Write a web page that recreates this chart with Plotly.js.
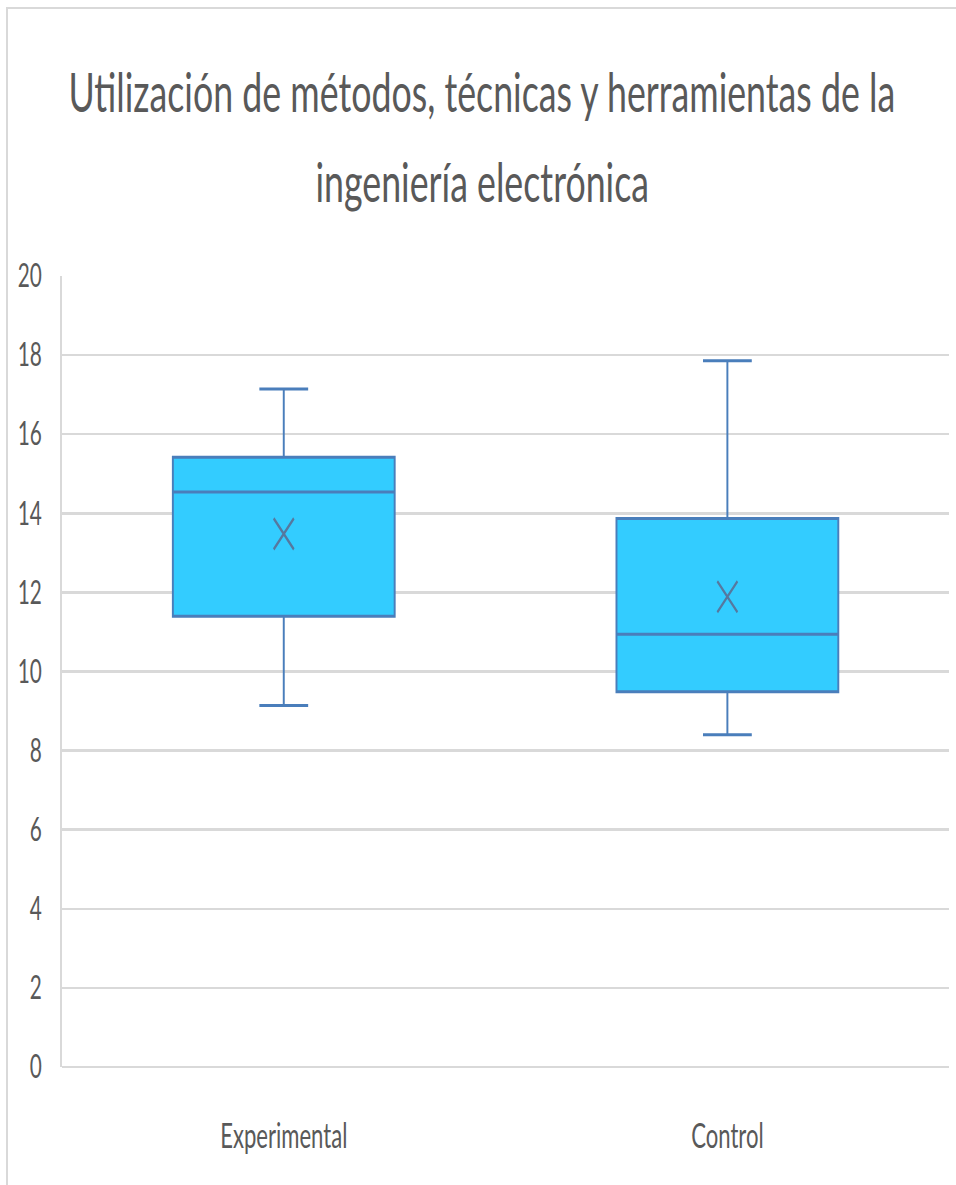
<!DOCTYPE html>
<html>
<head>
<meta charset="utf-8">
<script src="https://cdn.plot.ly/plotly-3.0.1.min.js"></script>
<style>
  html, body { margin: 0; padding: 0; background: #ffffff; width: 956px; height: 1185px; overflow: hidden; }
  #frame { position: absolute; left: 6px; top: 7px; width: 950px; height: 1178px;
           border-left: 2px solid #d9d9d9; border-top: 2px solid #d9d9d9; overflow: hidden; background: #fff; }
  #chart { position: absolute; left: 0; top: 0; width: 1458px; height: 1176px;
           transform: scaleX(0.65); transform-origin: 0 0; }
</style>
</head>
<body>
<div id="frame"><div id="chart"></div></div>
<script>
// Data
const categories = ['Experimental', 'Control'];
const lowerWhisker = [9.14, 8.40];
const q1Values = [11.40, 9.49];
const medianValues = [14.54, 10.94];
const q3Values = [15.42, 13.87];
const upperWhisker = [17.14, 17.86];
const meanValues = [13.48, 11.89];
const yTicks = [0, 2, 4, 6, 8, 10, 12, 14, 16, 18, 20];
const titleLine1 = 'Utilización de métodos, técnicas y herramientas de la';
const titleLine2 = 'ingeniería electrónica';

const boxColor = '#4a7ebb';
const textColor = '#595959';
const fontFamily = 'Lato, "Open Sans", "Noto Sans", sans-serif';

const traces = [
  {
    type: 'box',
    x: categories,
    q1: q1Values,
    median: medianValues,
    q3: q3Values,
    lowerfence: lowerWhisker,
    upperfence: upperWhisker,
    fillcolor: '#33ccff',
    line: { color: boxColor, width: 3 },
    whiskerwidth: 0.22,
    boxpoints: false,
    showlegend: false,
    hoverinfo: 'skip'
  },
  {
    type: 'scatter',
    mode: 'markers',
    x: categories,
    y: meanValues,
    marker: { symbol: 'x-thin-open', size: 31, color: '#56789f', line: { color: '#56789f', width: 3 } },
    showlegend: false,
    hoverinfo: 'skip'
  }
];

const layout = {
  width: 1458,
  height: 1176,
  paper_bgcolor: '#ffffff',
  plot_bgcolor: '#ffffff',
  margin: { l: 83, r: 10, t: 267, b: 118 },
  boxgap: 0.5,
  boxgroupgap: 0,
  font: { family: fontFamily, color: textColor },
  title: {
    text: titleLine1,
    font: { family: fontFamily, size: 55, color: textColor },
    xref: 'container', x: 0.5, xanchor: 'center',
    yref: 'container', y: 0.945, yanchor: 'top'
  },
  annotations: [{
    text: titleLine2,
    font: { family: fontFamily, size: 55, color: textColor },
    xref: 'paper', x: 0.4733, xanchor: 'center',
    yref: 'paper', y: 1.076, yanchor: 'bottom',
    showarrow: false
  }],
  xaxis: {
    type: 'category',
    range: [-0.5, 1.5],
    showgrid: false,
    zeroline: false,
    showline: false,
    ticks: '',
    ticklabelstandoff: 46,
    tickfont: { family: fontFamily, size: 34, color: textColor }
  },
  yaxis: {
    range: [0, 20],
    tickvals: yTicks,
    ticktext: yTicks.map(String),
    showgrid: true,
    gridcolor: '#d9d9d9',
    gridwidth: 2.5,
    zeroline: true,
    zerolinecolor: '#d9d9d9',
    zerolinewidth: 2.5,
    showline: true,
    linecolor: '#d9d9d9',
    linewidth: 2.5,
    ticks: '',
    ticklabelstandoff: 22,
    tickfont: { family: fontFamily, size: 32, color: textColor }
  },
  hovermode: false
};

Plotly.newPlot('chart', traces, layout, { staticPlot: true, displayModeBar: false });
</script>
</body>
</html>
